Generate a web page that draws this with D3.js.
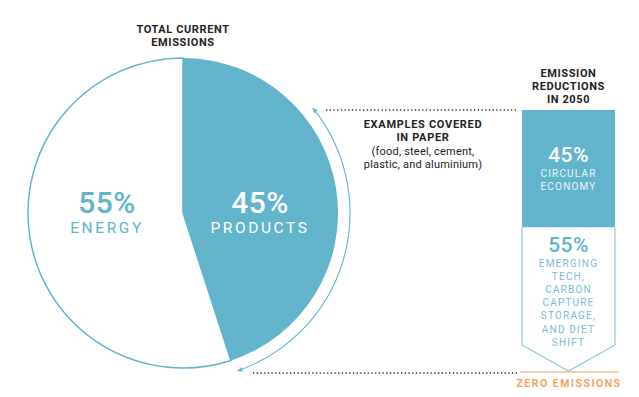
<!DOCTYPE html>
<html>
<head>
<meta charset="utf-8">
<script src="https://cdn.jsdelivr.net/npm/d3@7"></script>
<style>
  body { margin: 0; background: #fff; }
  svg { display: block; font-family: Roboto, "Open Sans", sans-serif; }
</style>
</head>
<body>
<div id="chart"></div>
<script>
// current emissions split
const pieCategories = ["PRODUCTS", "ENERGY"];
const pieValues = [45, 55];

// reductions by 2050
const reductionLabels = [["CIRCULAR", "ECONOMY"], ["EMERGING", "TECH,", "CARBON", "CAPTURE", "STORAGE,", "AND DIET", "SHIFT"]];
const reductionValues = [45, 55];

const pieTitle = ["TOTAL CURRENT", "EMISSIONS"];
const boxTitle = ["EMISSION", "REDUCTIONS", "IN 2050"];
const noteTitle = ["EXAMPLES COVERED", "IN PAPER"];
const noteText = ["(food, steel, cement,", "plastic, and aluminium)"];
const bottomLabel = "ZERO EMISSIONS";

const width = 639, height = 397;
const blue = "#62b3cc", orange = "#f7a262", dark = "#222";

const svg = d3.select("#chart").append("svg")
    .attr("width", width)
    .attr("height", height);

// ---- pie ----
const cx = 183, cy = 213, r = 155;
const pie = d3.pie().sort(null).value(d => d)(pieValues);
const arc = d3.arc().innerRadius(0).outerRadius(r);
const g = svg.append("g").attr("transform", `translate(${cx},${cy})`);

g.selectAll("path.slice")
    .data(pie)
    .join("path")
    .attr("class", "slice")
    .attr("d", arc)
    .attr("fill", (d, i) => i === 0 ? blue : "#fff")
    .attr("stroke", (d, i) => i === 0 ? "none" : blue)
    .attr("stroke-width", 1.5);

const labelPos = [[77, -11], [-76, -11]];
pie.forEach((d, i) => {
    const col = i === 0 ? "#fff" : blue;
    g.append("text")
        .attr("x", labelPos[i][0]).attr("y", labelPos[i][1])
        .attr("text-anchor", "middle").attr("dominant-baseline", "central")
        .attr("fill", col).attr("font-size", 30).attr("font-weight", 500)
        .attr("letter-spacing", 0.5)
        .text(d.data + "%");
    g.append("text")
        .attr("x", labelPos[i][0]).attr("y", labelPos[i][1] + 26)
        .attr("text-anchor", "middle").attr("dominant-baseline", "central")
        .attr("fill", col).attr("font-size", 15.5).attr("letter-spacing", 2.6)
        .text(pieCategories[i]);
});

// arrow around products slice
const toRad = deg => deg * Math.PI / 180;
const arrowR = 167, a0 = toRad(51), a1 = toRad(161);
g.append("path")
    .attr("d", d3.arc().innerRadius(arrowR).outerRadius(arrowR)
        .startAngle(a0).endAngle(a1)().split("L")[0])
    .attr("fill", "none")
    .attr("stroke", blue)
    .attr("stroke-width", 1.1);

// heads: start points back (anticlockwise), end points forward
[[a0, -1], [a1, 1]].forEach(([a, s]) => {
    const tx = arrowR * Math.sin(a), ty = -arrowR * Math.cos(a);
    const dx = s * Math.cos(a), dy = s * Math.sin(a);
    const len = 5, half = 2.4;
    const bx = tx - dx * len, by = ty - dy * len;
    g.append("path")
        .attr("d", `M${tx},${ty} L${bx - dy * half},${by + dx * half} L${bx + dy * half},${by - dx * half} Z`)
        .attr("fill", blue);
});

svg.append("g").selectAll("text")
    .data(pieTitle)
    .join("text")
    .attr("x", cx).attr("y", (d, i) => 29 + i * 13)
    .attr("text-anchor", "middle").attr("dominant-baseline", "central")
    .attr("fill", dark).attr("font-size", 11).attr("font-weight", 700)
    .attr("letter-spacing", 0.6)
    .text(d => d);

// ---- reduction box ----
const bx0 = 522, bx1 = 615, bmid = (bx0 + bx1) / 2;
const y = d3.scaleLinear().domain([0, 100]).range([110, 371]);
const stack = d3.cumsum(reductionValues);
const tip = 26;

svg.append("rect")
    .attr("x", bx0).attr("y", y(0))
    .attr("width", bx1 - bx0).attr("height", y(stack[0]) - y(0))
    .attr("fill", blue);

svg.append("path")
    .attr("d", `M${bx0},${y(stack[0])} V${y(stack[1]) - tip} L${bmid},${y(stack[1])} L${bx1},${y(stack[1]) - tip} V${y(stack[0])}`)
    .attr("fill", "#fff")
    .attr("stroke", "#8cc8dc")
    .attr("stroke-width", 1.2);

const pctY = [155, 245];
reductionValues.forEach((v, i) => {
    const col = i === 0 ? "#fff" : blue;
    svg.append("text")
        .attr("x", bmid).attr("y", pctY[i])
        .attr("text-anchor", "middle").attr("dominant-baseline", "central")
        .attr("fill", col).attr("font-size", 21).attr("font-weight", 500)
        .attr("letter-spacing", 0.4)
        .text(v + "%");
    svg.append("g").selectAll("text")
        .data(reductionLabels[i])
        .join("text")
        .attr("x", bmid).attr("y", (d, j) => pctY[i] + 18 + j * 13.2)
        .attr("text-anchor", "middle").attr("dominant-baseline", "central")
        .attr("fill", col).attr("font-size", 10).attr("letter-spacing", 1.2)
        .attr("opacity", i === 0 ? 0.9 : 0.85)
        .text(d => d);
});

svg.append("g").selectAll("text")
    .data(boxTitle)
    .join("text")
    .attr("x", bmid).attr("y", (d, i) => 73 + i * 13)
    .attr("text-anchor", "middle").attr("dominant-baseline", "central")
    .attr("fill", dark).attr("font-size", 11).attr("font-weight", 700)
    .attr("letter-spacing", 0.6)
    .text(d => d);

// dotted guides
svg.append("line")
    .attr("x1", 326).attr("x2", 518).attr("y1", y(0)).attr("y2", y(0))
    .attr("stroke", "#333").attr("stroke-width", 1.5).attr("stroke-dasharray", "1.3,2.4");
svg.append("line")
    .attr("x1", 253).attr("x2", 517).attr("y1", y(100) + 2).attr("y2", y(100) + 2)
    .attr("stroke", "#333").attr("stroke-width", 1.5).attr("stroke-dasharray", "1.3,2.4");

// zero line
svg.append("line")
    .attr("x1", 520).attr("x2", 619).attr("y1", y(100) + 1).attr("y2", y(100) + 1)
    .attr("stroke", orange).attr("stroke-width", 1);
svg.append("text")
    .attr("x", 569).attr("y", 383)
    .attr("text-anchor", "middle").attr("dominant-baseline", "central")
    .attr("fill", orange).attr("font-size", 10.5).attr("font-weight", 700)
    .attr("letter-spacing", 1.5)
    .text(bottomLabel);

// note
svg.append("g").selectAll("text")
    .data(noteTitle)
    .join("text")
    .attr("x", 423).attr("y", (d, i) => 124 + i * 13.5)
    .attr("text-anchor", "middle").attr("dominant-baseline", "central")
    .attr("fill", dark).attr("font-size", 11).attr("font-weight", 700)
    .attr("letter-spacing", 0.7)
    .text(d => d);
svg.append("g").selectAll("text")
    .data(noteText)
    .join("text")
    .attr("x", 423).attr("y", (d, i) => 151 + i * 13.5)
    .attr("text-anchor", "middle").attr("dominant-baseline", "central")
    .attr("fill", dark).attr("font-size", 11).attr("letter-spacing", 0.2)
    .text(d => d);
</script>
</body>
</html>
